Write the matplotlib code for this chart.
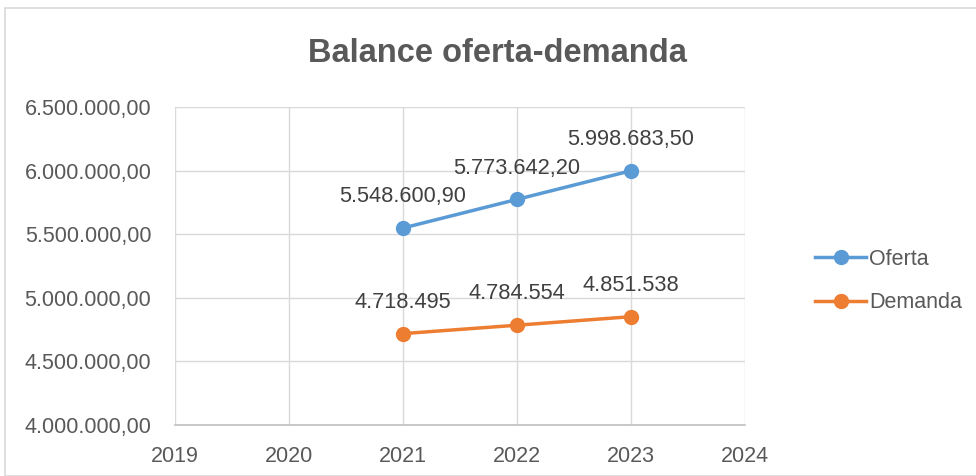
import matplotlib
matplotlib.use("Agg")
import matplotlib.pyplot as plt
from matplotlib.patches import Rectangle
from matplotlib.ticker import FuncFormatter, MultipleLocator

years = [2021, 2022, 2023]
oferta = [5548600.90, 5773642.20, 5998683.50]
demanda = [4718495, 4784554, 4851538]
oferta_labels = ["5.548.600,90", "5.773.642,20", "5.998.683,50"]
demanda_labels = ["4.718.495", "4.784.554", "4.851.538"]
title = "Balance oferta-demanda"

plt.rcParams['font.family'] = ['Liberation Sans', 'DejaVu Sans']

fig = plt.figure(figsize=(9.76, 4.76), dpi=100)
ax = fig.add_axes([175/976, 1-425/476, 570/976, 318/476])

c_of = '#5b9bd5'
c_de = '#ed7d31'
ax.plot(years, oferta, color=c_of, lw=2.5, marker='o', ms=10, label='Oferta', zorder=3, clip_on=False)
ax.plot(years, demanda, color=c_de, lw=2.5, marker='o', ms=10, label='Demanda', zorder=3, clip_on=False)

for x, y, t in zip(years, oferta, oferta_labels):
    ax.annotate(t, (x, y), xytext=(0, 15), textcoords='offset points', ha='center', va='bottom',
                fontsize=15.7, color='#404040')
for x, y, t in zip(years, demanda, demanda_labels):
    ax.annotate(t, (x, y), xytext=(0, 15), textcoords='offset points', ha='center', va='bottom',
                fontsize=15.7, color='#404040')

ax.set_xlim(2019, 2024)
ax.set_ylim(4000000, 6500000)
ax.xaxis.set_major_locator(MultipleLocator(1))
ax.yaxis.set_major_locator(MultipleLocator(500000))

def yfmt(v, pos):
    s = f"{v:,.2f}"
    return s.replace(",", "X").replace(".", ",").replace("X", ".")
ax.yaxis.set_major_formatter(FuncFormatter(yfmt))
ax.xaxis.set_major_formatter(FuncFormatter(lambda v, p: f"{int(round(v))}"))

ax.grid(True, color='#d9d9d9', lw=1.0)
ax.set_axisbelow(True)
for s in ['top', 'right', 'left']:
    ax.spines[s].set_visible(False)
ax.spines['bottom'].set_color('#bfbfbf')
ax.spines['bottom'].set_linewidth(1.2)
ax.tick_params(axis='both', length=0, labelsize=15.5, labelcolor='#595959')
ax.tick_params(axis='x', pad=15)
ax.tick_params(axis='y', pad=17)

fig.text(497/976, 1-53/476, title, ha='center', va='center', fontsize=23.5,
         fontweight='bold', color='#595959')

leg = fig.legend(loc='center left', bbox_to_anchor=(796/976, 1-281/476), frameon=False,
                 fontsize=15.5, labelcolor='#595959', handlelength=2.35, handletextpad=0.15,
                 labelspacing=1.05)

fig.patches.append(Rectangle((5/976, 0), 1, 1-8/476, transform=fig.transFigure,
                             fill=False, edgecolor='#d9d9d9', lw=1.2))

fig.savefig('out.png', dpi=100)
